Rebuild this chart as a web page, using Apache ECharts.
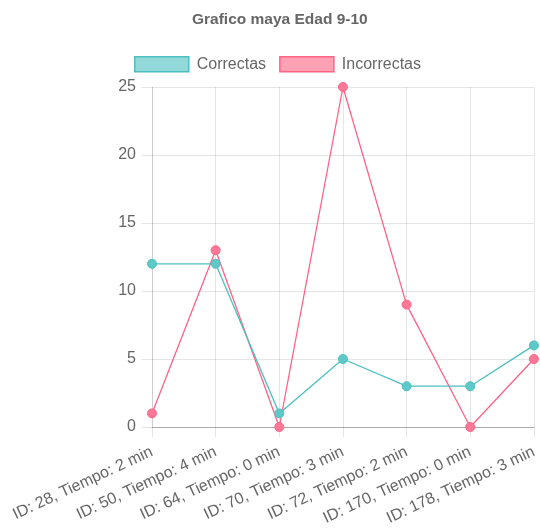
<!DOCTYPE html>
<html>
<head>
<meta charset="utf-8">
<script src="https://cdn.jsdelivr.net/npm/echarts@6/dist/echarts.min.js"></script>
<style>
  html, body { margin: 0; padding: 0; background: #fff; }
  #chart { width: 540px; height: 531px; }
</style>
</head>
<body>
<div id="chart"></div>
<script>
// Students (ID and time spent) and their answer counts
const categories = [
  'ID: 28, Tiempo: 2 min',
  'ID: 50, Tiempo: 4 min',
  'ID: 64, Tiempo: 0 min',
  'ID: 70, Tiempo: 3 min',
  'ID: 72, Tiempo: 2 min',
  'ID: 170, Tiempo: 0 min',
  'ID: 178, Tiempo: 3 min'
];
const correctas = [12, 12, 1, 5, 3, 3, 6];
const incorrectas = [1, 13, 0, 25, 9, 0, 5];

const teal = 'rgb(75,192,192)';
const pink = 'rgb(255,99,132)';
const gridColor = 'rgba(0,0,0,0.1)';
const textColor = '#666';
const font = '"Liberation Sans", Arial, Helvetica, sans-serif';

const chart = echarts.init(document.getElementById('chart'));
chart.setOption({
  animation: false,
  title: {
    text: 'Grafico maya Edad 9-10',
    left: 187,
    top: 7,
    textStyle: { fontFamily: font, fontSize: 15.5, fontWeight: 'bold', color: textColor }
  },
  legend: {
    top: 51,
    left: 129,
    itemWidth: 54,
    itemHeight: 15,
    itemGap: 13,
    icon: 'rect',
    textStyle: { fontFamily: font, fontSize: 16, color: textColor, padding: [0, 0, 0, 3] },
    data: [
      { name: 'Correctas', itemStyle: { color: 'rgba(75,192,192,0.6)', borderColor: teal, borderWidth: 1.5 } },
      { name: 'Incorrectas', itemStyle: { color: 'rgba(255,99,132,0.6)', borderColor: pink, borderWidth: 1.5 } }
    ]
  },
  grid: { left: 152, right: 3, top: 87, bottom: 104 },
  xAxis: {
    type: 'category',
    data: categories,
    boundaryGap: false,
    axisLine: { show: true, lineStyle: { color: 'rgba(0,0,0,0.25)', width: 1 } },
    axisTick: { show: true, length: 10, alignWithLabel: true, lineStyle: { color: gridColor } },
    splitLine: { show: true, lineStyle: { color: gridColor } },
    axisLabel: {
      rotate: 25,
      margin: 24,
      interval: 0,
      fontFamily: font,
      fontSize: 16,
      color: textColor
    }
  },
  yAxis: {
    type: 'value',
    min: 0,
    max: 25,
    interval: 5,
    axisLine: { show: true, lineStyle: { color: gridColor } },
    axisTick: { show: true, length: 10, lineStyle: { color: gridColor } },
    splitLine: { show: true, lineStyle: { color: gridColor } },
    axisLabel: { margin: 16, fontFamily: font, fontSize: 16, color: textColor }
  },
  series: [
    {
      name: 'Incorrectas',
      type: 'line',
      data: incorrectas,
      symbol: 'circle',
      symbolSize: 9,
      lineStyle: { color: pink, width: 1.3 },
      itemStyle: { color: 'rgb(255,120,150)', borderColor: pink, borderWidth: 1 },
      z: 2
    },
    {
      name: 'Correctas',
      type: 'line',
      data: correctas,
      symbol: 'circle',
      symbolSize: 9,
      lineStyle: { color: teal, width: 1.3 },
      itemStyle: { color: 'rgb(95,200,200)', borderColor: teal, borderWidth: 1 },
      z: 3
    }
  ]
});
</script>
</body>
</html>
